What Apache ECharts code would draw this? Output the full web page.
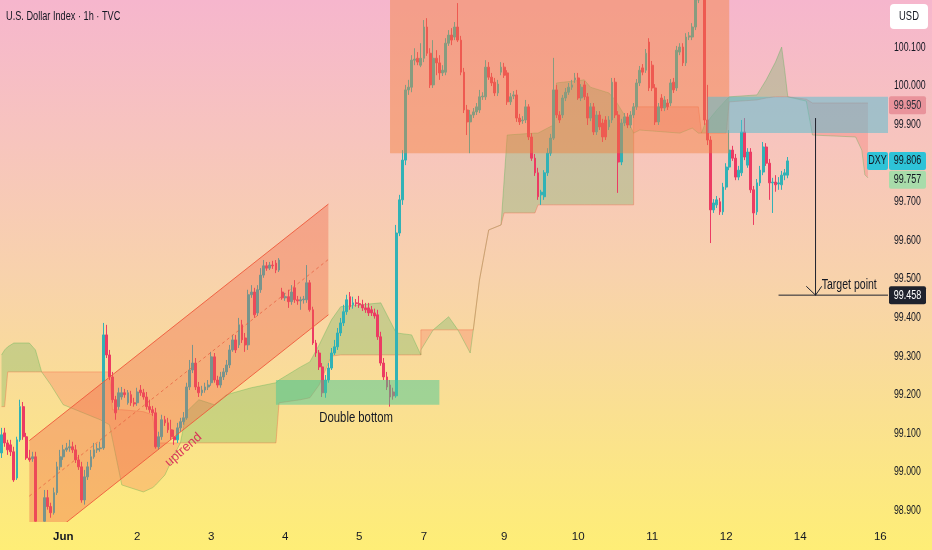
<!DOCTYPE html>
<html><head><meta charset="utf-8">
<script src="https://cdn.jsdelivr.net/npm/echarts@6/dist/echarts.min.js"></script>
<style>
html,body{margin:0;padding:0;}
#c{width:932px;height:550px;background:linear-gradient(to bottom,#f6b6cd 0%,#f7c4be 25%,#f8d2ac 50%,#fae091 75%,#feee76 100%);}
</style></head><body><div id="c"></div>
<script>
// ---------- DATA ----------
// hourly candles [open, close, low, high]
const candlesJun1to3 = [
[99.049,99.096,99.036,99.114],[99.101,99.075,99.065,99.114],[99.075,99.057,99.044,99.083],[99.070,99.052,99.041,99.083],
[99.052,98.979,98.974,99.065],[98.984,99.083,98.979,99.091],[99.083,99.169,99.078,99.187],[99.169,99.091,99.083,99.181],
[99.091,99.036,99.031,99.101],[99.036,99.031,99.026,99.057],[99.034,99.039,99.026,99.052],[99.039,98.872,98.871,99.052],
[98.850,98.834,98.811,98.863],[98.834,98.850,98.824,98.866],[98.872,98.933,98.871,98.953],[98.933,98.910,98.902,98.953],
[98.910,98.894,98.881,98.920],[98.894,98.946,98.889,98.959],[98.946,99.013,98.940,99.026],[99.013,99.039,99.005,99.057],
[99.039,99.057,99.031,99.070],[99.057,99.062,99.052,99.075],[99.062,99.065,99.052,99.083],[99.065,99.057,99.049,99.078],
[99.057,99.031,99.023,99.070],[99.031,99.013,99.005,99.044],[99.013,98.927,98.920,99.026],[98.927,98.987,98.915,99.005],
[98.987,99.013,98.979,99.026],[99.013,99.039,99.005,99.057],[99.039,99.057,99.034,99.075],[99.057,99.060,99.049,99.073],
[99.060,99.062,99.052,99.078],[99.062,99.355,99.057,99.386],[99.355,99.303,99.295,99.381],[99.303,99.246,99.238,99.316],
[99.246,99.187,99.179,99.259],[99.187,99.153,99.135,99.197],[99.169,99.205,99.161,99.218],[99.194,99.205,99.187,99.220],
[99.205,99.200,99.192,99.215],[99.179,99.205,99.174,99.212],[99.200,99.179,99.171,99.210],[99.179,99.176,99.169,99.192],
[99.179,99.207,99.171,99.218],[99.212,99.205,99.197,99.225],[99.205,99.194,99.187,99.215],[99.194,99.169,99.161,99.207],
[99.169,99.161,99.153,99.187],[99.161,99.153,99.145,99.171],[99.153,99.065,99.060,99.166],[99.065,99.091,99.057,99.104],
[99.091,99.135,99.083,99.148],[99.135,99.127,99.119,99.145],[99.127,99.109,99.101,99.140],[99.109,99.091,99.083,99.135],
[99.091,99.083,99.070,99.109],[99.083,99.114,99.075,99.127],[99.114,99.130,99.104,99.140],[99.130,99.140,99.122,99.155]
];
const candlesJun3to5 = [
[99.140,99.220,99.135,99.231],[99.220,99.264,99.212,99.290],[99.264,99.282,99.256,99.329],[99.282,99.220,99.212,99.295],
[99.220,99.205,99.194,99.233],[99.205,99.212,99.197,99.223],[99.212,99.220,99.205,99.231],[99.220,99.225,99.212,99.238],
[99.231,99.298,99.223,99.311],[99.298,99.238,99.231,99.308],[99.238,99.225,99.218,99.249],[99.225,99.246,99.218,99.259],
[99.246,99.259,99.238,99.269],[99.259,99.277,99.251,99.290],[99.277,99.316,99.269,99.329],[99.316,99.342,99.311,99.355],
[99.342,99.316,99.308,99.355],[99.329,99.381,99.321,99.399],[99.381,99.342,99.334,99.394],[99.347,99.329,99.311,99.360],
[99.329,99.459,99.316,99.472],[99.459,99.466,99.451,99.484],[99.466,99.407,99.399,99.477],[99.412,99.472,99.404,99.484],
[99.472,99.510,99.464,99.528],[99.510,99.534,99.503,99.549],[99.534,99.528,99.521,99.544],[99.528,99.536,99.523,99.544],
[99.536,99.534,99.526,99.547],[99.541,99.523,99.515,99.549],[99.523,99.549,99.518,99.554],[99.466,99.451,99.446,99.477],
[99.451,99.454,99.443,99.464],[99.454,99.441,99.425,99.472],[99.441,99.466,99.433,99.484],[99.477,99.446,99.438,99.497],
[99.446,99.443,99.433,99.456],[99.443,99.446,99.420,99.454],[99.446,99.448,99.436,99.456],[99.446,99.490,99.438,99.536],
[99.490,99.420,99.415,99.497],[99.420,99.334,99.329,99.428],[99.334,99.308,99.298,99.342],[99.308,99.272,99.264,99.316],
[99.272,99.205,99.194,99.282],[99.205,99.238,99.192,99.251],[99.238,99.269,99.231,99.282],[99.269,99.308,99.264,99.321],
[99.308,99.324,99.303,99.342],[99.324,99.360,99.316,99.373],[99.360,99.386,99.352,99.399],[99.386,99.415,99.378,99.433],
[99.415,99.446,99.407,99.459],[99.454,99.428,99.420,99.466],[99.433,99.438,99.423,99.454],[99.438,99.436,99.428,99.448],
[99.436,99.433,99.425,99.456],[99.433,99.425,99.417,99.446],[99.425,99.420,99.412,99.438],[99.425,99.412,99.404,99.438],
[99.420,99.412,99.404,99.430],[99.412,99.404,99.397,99.423],[99.407,99.350,99.342,99.420],[99.350,99.282,99.275,99.363],
[99.282,99.246,99.238,99.295],[99.246,99.220,99.212,99.259],[99.225,99.194,99.169,99.238],[99.207,99.197,99.187,99.218]
];
const candlesJun6to10 = [
[99.197,99.619,99.192,99.640],[99.619,99.705,99.611,99.718],[99.705,99.808,99.692,99.834],[99.808,99.990,99.795,100.003],
[99.990,99.997,99.977,100.016],[99.997,100.067,99.984,100.080],[100.067,100.070,100.054,100.098],[100.072,100.062,100.054,100.088],
[100.054,100.072,100.049,100.111],[100.072,100.153,100.062,100.171],[100.153,100.085,100.078,100.176],[100.085,100.003,99.995,100.098],
[100.003,100.072,99.995,100.119],[100.072,100.060,100.028,100.093],[100.060,100.034,100.016,100.080],[100.034,100.041,100.026,100.054],
[100.036,100.111,100.028,100.124],[100.111,100.132,100.104,100.145],[100.132,100.119,100.106,100.150],[100.127,100.153,100.119,100.166],
[100.153,100.119,100.114,100.215],[100.119,100.036,100.028,100.130],[100.036,99.938,99.930,100.047],[99.938,99.907,99.873,99.951],
[99.907,99.925,99.826,99.938],[99.925,99.933,99.917,99.943],[99.933,99.946,99.925,99.956],[99.938,99.972,99.930,99.990],
[99.972,99.974,99.964,99.984],[99.972,100.049,99.964,100.067],[100.049,100.023,100.016,100.062],[100.023,100.008,100.000,100.034],
[100.010,99.982,99.974,100.021],[99.982,100.005,99.974,100.016],[100.036,100.049,100.028,100.062],[100.049,100.028,100.021,100.060],
[100.034,99.959,99.951,100.041],[99.959,99.972,99.951,99.982],[99.974,99.977,99.966,99.987],[99.977,99.917,99.907,99.990],
[99.917,99.907,99.899,99.928],[99.910,99.912,99.902,99.922],[99.912,99.946,99.904,99.964],[99.946,99.868,99.860,99.953],
[99.868,99.813,99.806,99.878],[99.813,99.775,99.767,99.824],[99.775,99.713,99.705,99.788],[99.718,99.725,99.692,99.731],
[99.713,99.775,99.705,99.782],[99.775,99.826,99.767,99.839],[99.826,99.865,99.819,99.876],[99.865,99.990,99.860,100.073],
[99.990,99.925,99.917,100.003],[99.925,99.912,99.904,99.935],[99.925,99.969,99.917,99.977],[99.969,99.984,99.961,99.995],
[99.984,99.997,99.977,100.008],[99.997,100.003,99.990,100.016],[100.016,100.021,100.008,100.034],[100.021,99.969,99.964,100.034],
[99.969,99.997,99.961,100.005],[100.003,99.972,99.964,100.013],[99.972,99.917,99.899,99.982],[99.917,99.946,99.909,99.956],
[99.946,99.881,99.873,99.956],[99.881,99.925,99.873,99.935],[99.925,99.894,99.886,99.935],[99.904,99.868,99.855,99.915],
[99.912,99.868,99.860,99.922],[99.894,99.912,99.886,99.922],[99.912,100.010,99.904,100.021],[100.010,99.925,99.917,100.021]
];
const candlesJun10to13 = [
[99.925,99.803,99.723,99.935],[99.803,99.904,99.795,99.915],[99.904,99.920,99.896,99.930],[99.920,99.899,99.891,99.930],
[99.899,99.925,99.891,99.935],[99.925,99.946,99.917,99.956],[99.946,100.008,99.938,100.018],[100.008,100.041,100.000,100.052],
[100.047,100.036,100.028,100.057],[100.041,100.085,100.034,100.096],[100.114,99.995,99.987,100.124],[100.054,99.995,99.987,100.065],
[99.995,99.907,99.899,100.005],[99.907,99.946,99.899,99.956],[99.969,99.943,99.935,99.979],[99.943,99.964,99.935,99.974],
[99.956,99.946,99.938,99.966],[99.956,100.008,99.948,100.018],[100.010,99.990,99.982,100.021],[99.995,100.093,99.987,100.104],
[100.088,100.101,100.080,100.111],[100.101,100.060,100.052,100.111],[100.060,100.127,100.052,100.137],[100.127,100.130,100.119,100.140],
[100.127,100.153,100.119,100.163],[100.153,100.223,100.145,100.275],[100.223,100.288,100.215,100.326],[100.280,100.275,100.268,100.314],
[100.275,99.912,99.899,100.301],[99.912,99.860,99.847,100.003],[99.860,99.679,99.593,99.870],[99.679,99.697,99.671,99.707],
[99.692,99.705,99.684,99.715],[99.700,99.674,99.666,99.710],[99.674,99.738,99.666,99.749],[99.738,99.790,99.731,99.800],
[99.790,99.834,99.782,99.886],[99.834,99.813,99.806,99.845],[99.813,99.764,99.756,99.824],[99.764,99.782,99.756,99.793],
[99.775,99.881,99.767,99.912],[99.881,99.816,99.808,99.917],[99.795,99.829,99.788,99.839],[99.829,99.731,99.723,99.839],
[99.731,99.671,99.640,99.741],[99.674,99.749,99.666,99.759],[99.749,99.782,99.741,99.793],[99.777,99.842,99.769,99.855],
[99.842,99.800,99.793,99.852],[99.800,99.749,99.705,99.811],[99.749,99.751,99.671,99.762],[99.751,99.744,99.726,99.769],
[99.746,99.749,99.731,99.764],[99.744,99.769,99.731,99.780],[99.769,99.775,99.756,99.785],[99.769,99.806,99.761,99.816]
];
// Ichimoku cloud breakpoints (bar index, span A, span B)
const cloudX = [-0.5,1.1,1.8,4.4,9.3,10.9,12.5,15.7,20,32,35.2,36.2,37.8,39.4,45.9,48.9,49.8,53.1,56.3,58,59.6,64.4,69.3,72.6,80.7,89.4,90.1,96.9,100.2,103.4,106.7,109.9,122.9,127.8,132.6,135.9,136.2,140.1,144.6,147.9,151.5,152.8,155.4,157.6,161.9,162.8,164.1,173.2,173.9,179.1,180.4,188.8,191.1,196.6,199.2,203.4,204.7,205,205.4,207.3,220.3,223.5,225.8,227.1,227.8,231.7,234.9,235.6,245.3,247.9,250.5,252.8,254.1,255,260.9,262.5,277.1,278.7,280.4,281];
const cloudA = [99.303,99.316,99.324,99.334,99.334,99.316,99.259,99.225,99.174,99.135,99.122,99.083,99.005,98.966,98.948,98.959,98.966,98.992,99.044,99.075,99.156,99.187,99.174,99.200,99.218,99.231,99.238,99.272,99.285,99.329,99.394,99.428,99.438,99.360,99.355,99.303,99.316,99.368,99.402,99.368,99.308,99.368,99.497,99.627,99.640,99.756,99.873,99.878,99.878,99.899,100.008,100.016,99.997,99.982,99.964,99.912,99.878,99.878,99.878,99.886,99.878,99.891,99.878,99.878,99.899,99.938,99.964,99.972,99.977,100.016,100.062,100.101,100.041,99.972,99.961,99.873,99.868,99.834,99.770,99.762];
const cloudB = [99.169,99.169,99.259,99.259,99.259,99.259,99.259,99.259,99.259,99.259,99.259,99.161,99.161,99.161,99.156,99.148,99.075,99.075,99.075,99.075,99.075,99.075,99.075,99.075,99.075,99.075,99.179,99.187,99.192,99.225,99.300,99.303,99.303,99.303,99.303,99.303,99.368,99.368,99.368,99.368,99.368,99.368,99.497,99.627,99.640,99.671,99.671,99.671,99.692,99.692,99.692,99.692,99.692,99.692,99.692,99.692,99.692,99.878,99.946,99.946,99.946,99.946,99.946,99.878,99.878,99.878,99.878,99.959,99.964,99.969,99.972,99.972,99.972,99.972,99.966,99.956,99.956,99.956,99.956,99.956];
// x-axis day ticks (bar index -> label)
const tickIndex = [20,44,68,92,116,137,163,187,211,235,259,285];
const tickText = ['Jun','2','3','4','5','7','9','10','11','12','14','16'];
// price-scale tick labels
const priceTicks = [98.9,99.0,99.1,99.2,99.3,99.4,99.5,99.6,99.7,99.8,99.9,100.0,100.1];
// annotations, in data units: [x0, x1, low, high]
const supplyZone = [125.5, 235.6, 99.826, 100.6];
const resistZone = [229.4, 287.5, 99.878, 99.972];
const bottomZone = [89.4, 142.4, 99.174, 99.238];
const channelUpper = [[8.6, 99.081], [106, 99.694]];
const channelLower = [[8.6, 98.793], [106, 99.407]];
const targetDrop = [263.5, 99.917, 99.458];   // x, from, to
const targetLineStart = 251.8;
const lastPrice = 99.806, prevClose = 99.757, zoneMark = 99.950, targetPrice = 99.458;

// ---------- CHART ----------
const FONT = '"Liberation Sans", Arial, sans-serif';
const NARROW = 0.75;
const SLOTS = 288;
const candles = [...candlesJun1to3, ...candlesJun3to5, ...candlesJun6to10, ...candlesJun10to13];
const cats = Array.from({length: SLOTS}, (_, i) => { const k = tickIndex.indexOf(i); return k >= 0 ? tickText[k] : ''; });
const tickSet = new Set(tickIndex);
const GREEN = 'rgba(76,175,80,0.27)', RED = 'rgba(244,67,54,0.2)';

function ntext(x, y, text, size, fill, align, sx, extra) {
  return Object.assign({type: 'text', x, y, scaleX: sx || NARROW,
    style: {text, x: 0, y: 0, align: align || 'left', verticalAlign: 'middle', fill, font: size + 'px ' + FONT}}, extra || {});
}

function renderCloud(params, api) {
  const P = (x, v) => api.coord([x, v]);
  const n = cloudX.length, children = [];
  const sign = k => (cloudA[k] + cloudA[k + 1]) >= (cloudB[k] + cloudB[k + 1]);
  let k = 0;
  while (k < n - 1) {
    const s = sign(k); let e = k;
    while (e + 1 < n - 1 && sign(e + 1) === s) e++;
    const pts = [];
    for (let j = k; j <= e + 1; j++) pts.push(P(cloudX[j], cloudA[j]));
    for (let j = e + 1; j >= k; j--) pts.push(P(cloudX[j], cloudB[j]));
    children.push({type: 'polygon', shape: {points: pts}, style: {fill: s ? GREEN : RED}});
    k = e + 1;
  }
  children.push({type: 'polyline', shape: {points: cloudX.map((x, j) => P(x, cloudA[j]))}, style: {stroke: 'rgba(76,175,80,0.35)', lineWidth: 1, fill: null}});
  children.push({type: 'polyline', shape: {points: cloudX.map((x, j) => P(x, cloudB[j]))}, style: {stroke: 'rgba(240,90,60,0.35)', lineWidth: 1, fill: null}});
  return {type: 'group', children};
}

function rectOf(api, z, fill) {
  const a = api.coord([z[0], z[3]]), b = api.coord([z[1], z[2]]);
  return {type: 'rect', shape: {x: a[0], y: a[1], width: b[0] - a[0], height: b[1] - a[1]}, style: {fill}};
}

function renderDrawings(params, api) {
  const P = (x, v) => api.coord([x, v]);
  const ch = [];
  ch.push(rectOf(api, supplyZone, 'rgba(242,128,60,0.45)'));
  ch.push(rectOf(api, resistZone, 'rgba(80,190,210,0.5)'));
  ch.push(rectOf(api, bottomZone, 'rgba(70,200,150,0.5)'));
  const u0 = P(...channelUpper[0]), u1 = P(...channelUpper[1]), l0 = P(...channelLower[0]), l1 = P(...channelLower[1]);
  ch.push({type: 'polygon', shape: {points: [u0, u1, l1, l0]}, style: {fill: 'rgba(240,100,70,0.38)'}});
  ch.push({type: 'line', shape: {x1: u0[0], y1: u0[1], x2: u1[0], y2: u1[1]}, style: {stroke: 'rgba(238,90,60,0.9)', lineWidth: 1}});
  ch.push({type: 'line', shape: {x1: l0[0], y1: l0[1], x2: l1[0], y2: l1[1]}, style: {stroke: 'rgba(238,90,60,0.9)', lineWidth: 1}});
  ch.push({type: 'line', shape: {x1: (u0[0] + l0[0]) / 2, y1: (u0[1] + l0[1]) / 2, x2: (u1[0] + l1[0]) / 2, y2: (u1[1] + l1[1]) / 2}, style: {stroke: 'rgba(230,90,60,0.7)', lineWidth: 1, lineDash: [3, 3]}});
  const ang = Math.atan2(-(u1[1] - u0[1]), u1[0] - u0[0]);
  const up = P(58.6, 99.057);
  ch.push({type: 'text', x: up[0], y: up[1], rotation: ang + 0.05, style: {text: 'uptrend', x: 0, y: 0, align: 'center', verticalAlign: 'middle', fill: '#d9365a', font: '13px ' + FONT}});
  const db = P(115.4, 99.140);
  ch.push(ntext(db[0], db[1], 'Double bottom', 15.5, '#131722', 'center', 0.73));
  const t0 = P(targetDrop[0], targetDrop[1]), t1 = P(targetDrop[0], targetDrop[2]);
  const hl = P(targetLineStart, targetPrice), hr = P(287.5, targetPrice);
  ch.push({type: 'line', shape: {x1: t0[0], y1: t0[1], x2: t1[0], y2: t1[1]}, style: {stroke: '#1e222d', lineWidth: 1}});
  ch.push({type: 'line', shape: {x1: hl[0], y1: hl[1], x2: hr[0], y2: hr[1]}, style: {stroke: '#1e222d', lineWidth: 1}});
  const aL = P(targetDrop[0] - 2.3, targetDrop[2] + 0.023), aR = P(targetDrop[0] + 2.3, targetDrop[2] + 0.023);
  ch.push({type: 'polyline', shape: {points: [aL, t1, aR]}, style: {stroke: '#1e222d', lineWidth: 1, fill: null}});
  const tp = P(266, 99.485);
  ch.push(ntext(tp[0], tp[1], 'Target point', 15.5, '#131722', 'left', 0.68));
  return {type: 'group', children: ch};
}

function tag(api, value, text, fill, color, x, w) {
  const y = api.coord([0, value])[1];
  return [
    {type: 'rect', shape: {x, y: y - 9, width: w, height: 18, r: 2}, style: {fill}},
    ntext(x + w / 2, y, text, 12.5, color, 'center', 0.72)
  ];
}
function renderTags(params, api) {
  const ch = [];
  priceTicks.forEach(v => { ch.push(ntext(894, api.coord([0, v])[1], v.toFixed(3), 12.5, '#131722', 'left', 0.7)); });
  ch.push(...tag(api, zoneMark, zoneMark.toFixed(3), '#e9939b', '#2a2e39', 889, 37));
  ch.push(...tag(api, lastPrice, 'DXY', '#2ec3d7', '#131722', 867, 21));
  ch.push(...tag(api, lastPrice, lastPrice.toFixed(3), '#2ec3d7', '#131722', 889, 37));
  ch.push(...tag(api, prevClose, prevClose.toFixed(3), '#a8dcaa', '#131722', 889, 37));
  ch.push(...tag(api, targetPrice, targetPrice.toFixed(3), '#1e222d', '#ffffff', 889, 37));
  ch.push({type: 'rect', shape: {x: 890, y: 4, width: 38, height: 25, r: 4}, style: {fill: '#ffffff'}});
  ch.push(ntext(909, 16.5, 'USD', 12.5, '#131722', 'center', 0.75));
  ch.push(ntext(6, 16, 'U.S. Dollar Index · 1h · TVC', 13.5, '#131722', 'left', 0.68));
  return {type: 'group', children: ch};
}

const chart = echarts.init(document.getElementById('c'), null, {renderer: 'canvas'});
chart.setOption({
  backgroundColor: 'transparent',
  animation: false,
  grid: {left: 0, right: 44, top: 0, bottom: 28},
  xAxis: {
    type: 'category', data: cats, boundaryGap: true,
    axisLine: {show: false}, axisTick: {show: false}, splitLine: {show: false},
    axisLabel: {
      interval: (i) => tickSet.has(i), margin: 9, color: '#131722', fontSize: 11.5, fontFamily: FONT,
      formatter: (v) => v === 'Jun' ? '{b|Jun}' : v,
      rich: {b: {fontWeight: 'bold', fontSize: 11.5, color: '#131722', fontFamily: FONT}}
    }
  },
  yAxis: {
    type: 'value', position: 'right', min: 98.870, max: 100.223, scale: true,
    axisLine: {show: false}, axisTick: {show: false}, splitLine: {show: false}, axisLabel: {show: false}
  },
  series: [
    {type: 'custom', name: 'cloud', renderItem: renderCloud, data: [[0, 99.5]], clip: true, z: 1, silent: true},
    {type: 'candlestick', name: 'DXY', data: candles, z: 3, clip: true, barWidth: 2.4,
      itemStyle: {color: '#31b2b6', color0: '#ec3b63', borderColor: '#31b2b6', borderColor0: '#ec3b63', borderWidth: 1}},
    {type: 'custom', name: 'drawings', renderItem: renderDrawings, data: [[0, 99.5]], clip: true, z: 4, silent: true},
    {type: 'custom', name: 'tags', renderItem: renderTags, data: [[0, 99.5]], clip: false, z: 6, silent: true}
  ]
});
</script></body></html>
